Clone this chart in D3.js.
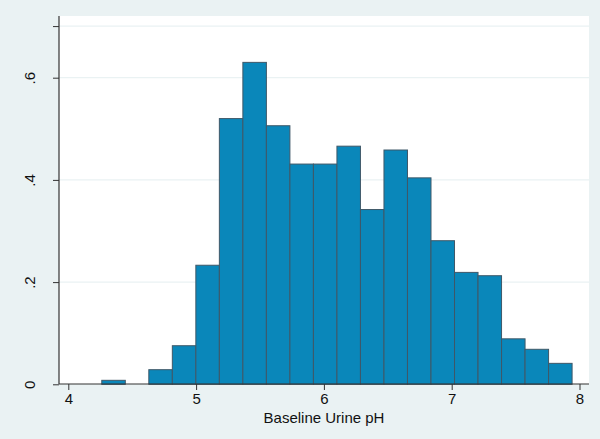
<!DOCTYPE html>
<html>
<head>
<meta charset="utf-8">
<script src="https://cdn.jsdelivr.net/npm/d3@7"></script>
<style>
  html, body { margin: 0; padding: 0; background: #eaf2f3; }
  svg { display: block; }
</style>
</head>
<body>
<div id="chart"></div>
<script>
// histogram of baseline urine pH (density)
const binStart = 4.262;
const binWidth = 0.184;
const densities = [0.0078, 0, 0.0286, 0.0755, 0.233, 0.52, 0.630, 0.506, 0.431, 0.431,
                   0.466, 0.342, 0.4585, 0.404, 0.281, 0.219, 0.2125, 0.089, 0.0685, 0.041];
const xTicks = [4, 5, 6, 7, 8];
const yTicks = [0, 0.2, 0.4, 0.6];
const yTickLabels = ["0", ".2", ".4", ".6"];
const yTopTick = 0.701;
const xTitle = "Baseline Urine pH";

const width = 600, height = 439;
const plot = { left: 59, right: 589, top: 16, bottom: 384 };

const bins = densities.map((d, i) => ({
  x0: binStart + i * binWidth,
  x1: binStart + (i + 1) * binWidth,
  y: d
}));

const svg = d3.select("#chart").append("svg")
  .attr("width", width)
  .attr("height", height);

svg.append("rect")
  .attr("width", width).attr("height", height)
  .attr("fill", "#eaf2f3");

svg.append("rect")
  .attr("x", plot.left).attr("y", plot.top)
  .attr("width", plot.right - plot.left)
  .attr("height", plot.bottom - plot.top)
  .attr("fill", "#ffffff");

const x = d3.scaleLinear().domain([4, 8]).range([68.3, 579.5]);
const y = d3.scaleLinear().domain([0, 0.6]).range([384.3, 77.7]);

// grid lines
svg.append("g")
  .selectAll("line")
  .data(yTicks.slice(1).concat([yTopTick]))
  .join("line")
  .attr("x1", plot.left).attr("x2", plot.right)
  .attr("y1", d => y(d)).attr("y2", d => y(d))
  .attr("stroke", "#eaf2f3")
  .attr("stroke-width", 1.2);

// bars
svg.append("g")
  .selectAll("rect")
  .data(bins.filter(b => b.y > 0))
  .join("rect")
  .attr("x", d => x(d.x0))
  .attr("width", d => x(d.x1) - x(d.x0))
  .attr("y", d => y(d.y))
  .attr("height", d => y(0) - y(d.y))
  .attr("fill", "#0a87ba")
  .attr("stroke", "#3f5868")
  .attr("stroke-width", 1);

// x axis
const xAxis = d3.axisBottom(x)
  .tickValues(xTicks)
  .tickFormat(d3.format("d"))
  .tickSize(6)
  .tickPadding(3)
  .tickSizeOuter(0);

const gx = svg.append("g")
  .attr("transform", `translate(0,${plot.bottom})`)
  .call(xAxis);
gx.select(".domain").remove();
gx.append("line")
  .attr("x1", plot.left).attr("x2", plot.right)
  .attr("stroke", "#333").attr("stroke-width", 1.2);
gx.selectAll(".tick line").attr("stroke", "#333");
gx.selectAll(".tick text")
  .attr("fill", "#111")
  .style("font-family", "'Liberation Sans', Arial, sans-serif")
  .style("font-size", "15px");

// y axis
const yAxis = d3.axisLeft(y)
  .tickValues(yTicks.concat([yTopTick]))
  .tickFormat(d => {
    const i = yTicks.indexOf(d);
    return i >= 0 ? yTickLabels[i] : "";
  })
  .tickSize(6)
  .tickSizeOuter(0);

const gy = svg.append("g")
  .attr("transform", `translate(${plot.left},0)`)
  .call(yAxis);
gy.select(".domain").remove();
gy.append("line")
  .attr("y1", plot.top).attr("y2", plot.bottom)
  .attr("stroke", "#333").attr("stroke-width", 1.2);
gy.selectAll(".tick line").attr("stroke", "#333");
gy.selectAll(".tick text")
  .attr("fill", "#111")
  .attr("x", 0).attr("dy", 0)
  .attr("transform", "translate(-24,0) rotate(-90)")
  .attr("text-anchor", "middle")
  .style("font-family", "'Liberation Sans', Arial, sans-serif")
  .style("font-size", "15px");

// axis title
svg.append("text")
  .attr("x", (plot.left + plot.right) / 2)
  .attr("y", 423)
  .attr("text-anchor", "middle")
  .attr("fill", "#111")
  .style("font-family", "'Liberation Sans', Arial, sans-serif")
  .style("font-size", "15px")
  .text(xTitle);
</script>
</body>
</html>
